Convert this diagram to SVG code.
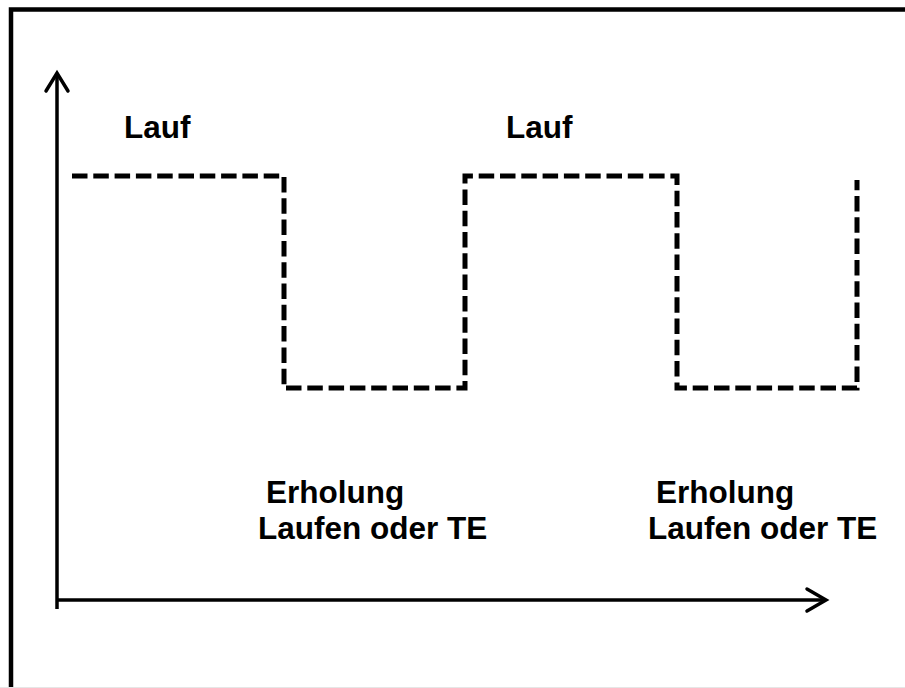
<svg xmlns="http://www.w3.org/2000/svg" width="905" height="688" viewBox="0 0 905 688">
<style>
.frame{fill:none;stroke:#000;stroke-width:4.5}
.axis{fill:none;stroke:#000;stroke-width:3.5}
.head{fill:none;stroke:#000;stroke-width:3.5;stroke-linecap:round;stroke-linejoin:miter}
.wave{fill:none;stroke:#000;stroke-width:5;stroke-dasharray:15.5 5.8}
.lbl{font-family:"Liberation Sans",Arial,sans-serif;font-weight:bold;font-size:31.5px;fill:#000}
</style>
<rect width="905" height="688" fill="#fff"/>
<path class="frame" d="M11,700 V9.5 H915"/>
<line x1="0" y1="687.5" x2="905" y2="687.5" stroke="#e6e6e6" stroke-width="1"/>
<g id="connectors">
<path class="axis" d="M57,609 V73"/>
<path class="head" d="M46,91 L57,73 L68,91"/>
<path class="axis" d="M56,600 H825"/>
<path class="head" d="M807,589 L826,600 L807,611"/>
<path class="wave" d="M72,176 H284 V388 H465 V176 H677 V388 H857 V180"/>
</g>
<g id="lauf1"><text class="lbl" x="124" y="138">Lauf</text></g>
<g id="lauf2"><text class="lbl" x="506" y="138">Lauf</text></g>
<g id="erholung1"><text class="lbl" x="266" y="503">Erholung</text><text class="lbl" x="258" y="539">Laufen oder TE</text></g>
<g id="erholung2"><text class="lbl" x="656" y="503">Erholung</text><text class="lbl" x="648" y="539">Laufen oder TE</text></g>
</svg>
